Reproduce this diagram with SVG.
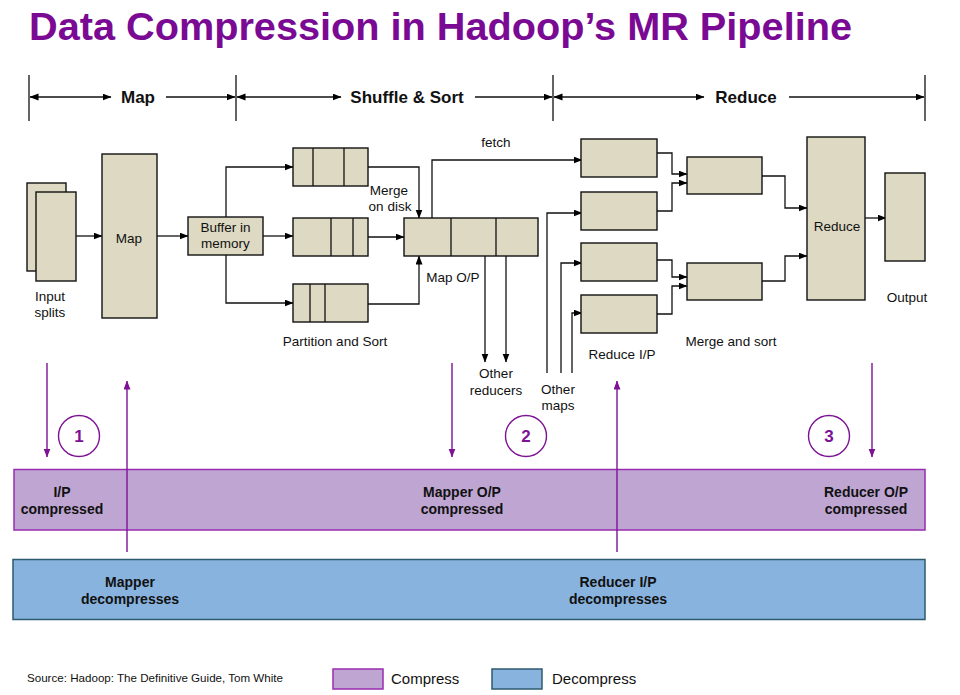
<svg xmlns="http://www.w3.org/2000/svg" width="960" height="695" viewBox="0 0 960 695">
<defs>
<marker id="ah" markerUnits="userSpaceOnUse" markerWidth="9" markerHeight="8" refX="8.5" refY="3.5" orient="auto-start-reverse"><path d="M0,0 L9,3.5 L0,7 z" fill="#000"/></marker>
<marker id="ap" markerUnits="userSpaceOnUse" markerWidth="9" markerHeight="8" refX="8.5" refY="3.5" orient="auto"><path d="M0,0 L9,3.5 L0,7 z" fill="#7d1294"/></marker>
<style>
text{font-family:"Liberation Sans",Arial,sans-serif;fill:#111}
.t{font-size:13.5px;text-anchor:middle}
.ph{font-size:17px;font-weight:bold;text-anchor:middle}
.box{fill:#ddd9c3;stroke:#111;stroke-width:1.4}
.ln{fill:none;stroke:#111;stroke-width:1.3}
.c{fill:none;stroke:#111;stroke-width:1.3;marker-end:url(#ah)}
.pa{fill:none;stroke:#7d1294;stroke-width:1.4;marker-end:url(#ap)}
.b{font-size:14px;font-weight:bold;text-anchor:middle}
.num{font-size:17px;font-weight:bold;text-anchor:middle;fill:#7d1294}
.circ{fill:#fff;stroke:#7d1294;stroke-width:1.4}
</style>
</defs>
<rect width="960" height="695" fill="#fff"/>
<text x="29" y="40" textLength="823" lengthAdjust="spacingAndGlyphs" style="font-size:39px;font-weight:bold;fill:#7a0a94">Data Compression in Hadoop’s MR Pipeline</text>

<g id="phases">
<path class="ln" d="M29,75 V121 M236,75 V121 M553,75 V121 M925,75 V121"/>
<path class="c" style="marker-start:url(#ah)" d="M30,97 H111"/>
<path class="c" d="M166,97 H235"/>
<text class="ph" x="138" y="103">Map</text>
<path class="c" style="marker-start:url(#ah)" d="M237,97 H341"/>
<path class="c" d="M475,97 H552"/>
<text class="ph" x="407" y="103">Shuffle &amp; Sort</text>
<path class="c" style="marker-start:url(#ah)" d="M554,97 H704"/>
<path class="c" d="M789,97 H924"/>
<text class="ph" x="746" y="103">Reduce</text>
</g>

<g id="connectors">
<path class="c" d="M76,236 H102"/>
<path class="c" d="M157,236 H188"/>
<path class="c" d="M226,217 V167 H293"/>
<path class="c" d="M263,236 H293"/>
<path class="c" d="M226,255 V303 H293"/>
<path class="c" d="M368,167 H419 V218"/>
<path class="c" d="M368,237 H404"/>
<path class="c" d="M368,304 H419 V256"/>
<path class="c" d="M432,218 V160 H582"/>
<path class="c" d="M485,256 V362"/>
<path class="c" d="M506,256 V362"/>
<path class="c" d="M547,373 V213 H582"/>
<path class="c" d="M561,373 V263 H582"/>
<path class="c" d="M572,373 V313 H582"/>
<path class="c" d="M657,153 H672 V174 H687"/>
<path class="c" d="M657,211 H672 V183 H687"/>
<path class="c" d="M657,260 H672 V277 H687"/>
<path class="c" d="M657,314 H672 V286 H687"/>
<path class="c" d="M762,176 H785 V208 H807"/>
<path class="c" d="M762,281 H785 V256 H807"/>
<path class="c" d="M865,218 H886"/>
</g>

<g id="input-splits">
<rect class="box" x="27" y="183" width="39" height="88"/>
<rect class="box" x="36" y="192" width="40" height="89"/>
<text class="t" x="50" y="301">Input</text>
<text class="t" x="50" y="317">splits</text>
</g>
<g id="map">
<rect class="box" x="102" y="154" width="55" height="164"/>
<text class="t" x="129" y="243">Map</text>
</g>
<g id="buffer">
<rect class="box" x="188" y="217" width="75" height="38"/>
<text class="t" x="225.5" y="232">Buffer in</text>
<text class="t" x="225.5" y="248">memory</text>
</g>
<g id="partition-1">
<rect class="box" x="293" y="148" width="75" height="38"/>
<path class="ln" d="M313,148 V186 M344,148 V186"/>
</g>
<g id="partition-2">
<rect class="box" x="293" y="218" width="75" height="38"/>
<path class="ln" d="M331,218 V256 M353,218 V256"/>
</g>
<g id="partition-3">
<rect class="box" x="293" y="284" width="75" height="38"/>
<path class="ln" d="M310,284 V322 M325,284 V322"/>
<text class="t" x="335" y="346">Partition and Sort</text>
</g>
<g id="map-op">
<rect class="box" x="404" y="218" width="134" height="38"/>
<path class="ln" d="M451,218 V256 M496,218 V256"/>
<text class="t" x="453" y="282">Map O/P</text>
<text class="t" x="389" y="195">Merge</text>
<text class="t" x="390" y="211">on disk</text>
<text class="t" x="496" y="147">fetch</text>
</g>
<g id="other-reducers">
<text class="t" x="496" y="378">Other</text>
<text class="t" x="496" y="395">reducers</text>
</g>
<g id="other-maps">
<text class="t" x="558" y="394">Other</text>
<text class="t" x="558" y="410">maps</text>
</g>
<g id="reduce-ip">
<rect class="box" x="581" y="139" width="76" height="38"/>
<rect class="box" x="581" y="192" width="76" height="38"/>
<rect class="box" x="581" y="243" width="76" height="38"/>
<rect class="box" x="581" y="295" width="76" height="38"/>
<text class="t" x="622" y="359">Reduce I/P</text>
</g>
<g id="merge-sort">
<rect class="box" x="687" y="157" width="75" height="37"/>
<rect class="box" x="687" y="263" width="75" height="37"/>
<text class="t" x="731" y="346">Merge and sort</text>
</g>
<g id="reduce">
<rect class="box" x="807" y="137" width="58" height="163"/>
<text class="t" x="837" y="231">Reduce</text>
</g>
<g id="output">
<rect class="box" x="885" y="173" width="40" height="88"/>
<text class="t" x="907" y="302">Output</text>
</g>

<g id="compress-band">
<rect x="14" y="469.5" width="911" height="60.5" fill="#bea5d2" stroke="#9a2cb0" stroke-width="1.5"/>
<text class="b" x="62" y="497">I/P</text>
<text class="b" x="62" y="514">compressed</text>
<text class="b" x="462" y="497">Mapper O/P</text>
<text class="b" x="462" y="514">compressed</text>
<text class="b" x="866" y="497">Reducer O/P</text>
<text class="b" x="866" y="514">compressed</text>
</g>
<g id="decompress-band">
<rect x="13" y="559.5" width="912" height="60" fill="#88b3de" stroke="#2d5a6e" stroke-width="1.5"/>
<text class="b" x="130" y="587">Mapper</text>
<text class="b" x="130" y="604">decompresses</text>
<text class="b" x="618" y="587">Reducer I/P</text>
<text class="b" x="618" y="604">decompresses</text>
</g>

<g id="compression-arrows">
<path class="pa" d="M47,363 V457"/>
<path class="pa" d="M127,552 V381"/>
<path class="pa" d="M452,363 V457"/>
<path class="pa" d="M617,552 V381"/>
<path class="pa" d="M872,363 V457"/>
</g>
<g id="step-1"><circle class="circ" cx="79" cy="436" r="20.5"/><text class="num" x="79" y="442">1</text></g>
<g id="step-2"><circle class="circ" cx="526" cy="436" r="20.5"/><text class="num" x="526" y="442">2</text></g>
<g id="step-3"><circle class="circ" cx="829" cy="436" r="20.5"/><text class="num" x="829" y="442">3</text></g>

<g id="legend">
<text x="27" y="682" textLength="256" lengthAdjust="spacingAndGlyphs" style="font-size:11.5px">Source: Hadoop: The Definitive Guide, Tom White</text>
<rect x="333" y="669" width="50" height="20" fill="#bea5d2" stroke="#9a2cb0" stroke-width="1.5"/>
<text x="391" y="684" style="font-size:15px">Compress</text>
<rect x="492" y="669" width="50" height="20" fill="#88b3de" stroke="#2d5a6e" stroke-width="1.5"/>
<text x="552" y="684" style="font-size:15px">Decompress</text>
</g>
</svg>
